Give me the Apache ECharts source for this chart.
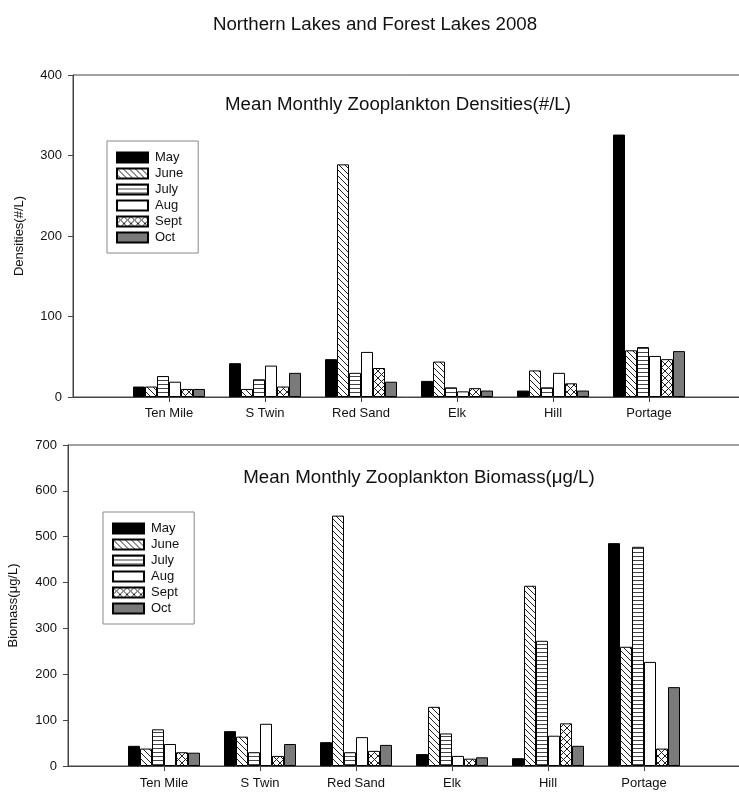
<!DOCTYPE html>
<html>
<head>
<meta charset="utf-8">
<script src="https://cdn.jsdelivr.net/npm/echarts@6/dist/echarts.min.js"></script>
<style>
html,body{margin:0;padding:0;background:#fff;}
#chart{width:739px;height:792px;}
</style>
</head>
<body>
<div id="chart"></div>
<script>
// ---- data ----
const lakes = ['Ten Mile', 'S Twin', 'Red Sand', 'Elk', 'Hill', 'Portage'];
const months = ['May', 'June', 'July', 'Aug', 'Sept', 'Oct'];

const densMay  = [13, 42, 47, 20, 8, 326];
const densJune = [13, 10, 289, 44, 33, 58];
const densJuly = [26, 22, 30, 12, 12, 62];
const densAug  = [19, 39, 56, 7, 30, 51];
const densSept = [10, 13, 36, 11, 17, 47];
const densOct  = [10, 30, 19, 8, 8, 57];

const bioMay  = [44, 76, 52, 26, 17, 486];
const bioJune = [38, 64, 546, 129, 393, 260];
const bioJuly = [80, 30, 30, 71, 273, 478];
const bioAug  = [48, 92, 63, 22, 66, 227];
const bioSept = [30, 22, 33, 16, 93, 38];
const bioOct  = [29, 48, 46, 19, 44, 172];

const densTicks = [0, 100, 200, 300, 400];
const bioTicks = [0, 100, 200, 300, 400, 500, 600, 700];

// ---- patterns ----
function makePattern(kind) {
  const c = document.createElement('canvas');
  const ctx = c.getContext('2d');
  if (kind === 'diag') {
    c.width = 6; c.height = 6;
    ctx.fillStyle = '#fff'; ctx.fillRect(0, 0, 6, 6);
    ctx.strokeStyle = '#222'; ctx.lineWidth = 1;
    ctx.beginPath();
    ctx.moveTo(-1, -1); ctx.lineTo(7, 7);
    ctx.moveTo(-1, 5); ctx.lineTo(1, 7);
    ctx.moveTo(5, -1); ctx.lineTo(7, 1);
    ctx.stroke();
  } else if (kind === 'horiz') {
    c.width = 4; c.height = 4;
    ctx.fillStyle = '#fff'; ctx.fillRect(0, 0, 4, 4);
    ctx.fillStyle = '#444'; ctx.fillRect(0, 0, 4, 1);
  } else if (kind === 'cross') {
    c.width = 7; c.height = 7;
    ctx.fillStyle = '#fff'; ctx.fillRect(0, 0, 7, 7);
    ctx.strokeStyle = '#222'; ctx.lineWidth = 1;
    ctx.beginPath();
    ctx.moveTo(0, 0); ctx.lineTo(7, 7);
    ctx.moveTo(7, 0); ctx.lineTo(0, 7);
    ctx.stroke();
  }
  return { image: c, repeat: 'repeat' };
}

const fills = ['#000000', makePattern('diag'), makePattern('horiz'), '#ffffff', makePattern('cross'), '#7a7a7a'];
const densSeries = [densMay, densJune, densJuly, densAug, densSept, densOct];
const bioSeries = [bioMay, bioJune, bioJuly, bioAug, bioSept, bioOct];

const FONT = 'Liberation Sans, Arial, sans-serif';
const axisCats = [''].concat(lakes, ['']);

function pad(vals) { return ['-'].concat(vals, ['-']); }

function xAxisCfg(gridIndex, margin) {
  return {
    type: 'category', gridIndex: gridIndex, data: axisCats, boundaryGap: false,
    axisLine: { lineStyle: { color: '#444', width: 1 } },
    axisTick: { show: true, length: 5, lineStyle: { color: '#444' }, interval: function (i, v) { return v !== ''; } },
    axisLabel: { interval: 0, color: '#111', fontSize: 13, fontFamily: FONT, margin: margin }
  };
}
function yAxisCfg(gridIndex, max, name, gap) {
  return {
    type: 'value', gridIndex: gridIndex, min: 0, max: max, interval: 100,
    name: name, nameLocation: 'middle', nameGap: gap, nameRotate: 90,
    nameTextStyle: { color: '#111', fontSize: 13, fontFamily: FONT },
    axisLine: { show: true, lineStyle: { color: '#444', width: 1 } },
    axisTick: { show: true, length: 5, lineStyle: { color: '#444' } },
    axisLabel: { color: '#111', fontSize: 13, fontFamily: FONT, margin: 11 },
    splitLine: { show: false }
  };
}

const series = [];
months.forEach(function (m, i) {
  series.push({
    name: m, type: 'bar', xAxisIndex: 0, yAxisIndex: 0,
    data: pad(densSeries[i]), barWidth: 12, barGap: '0%',
    itemStyle: { color: fills[i], borderColor: '#000', borderWidth: 1 },
    emphasis: { disabled: true }, animation: false
  });
});
months.forEach(function (m, i) {
  series.push({
    name: m, type: 'bar', xAxisIndex: 1, yAxisIndex: 1,
    data: pad(bioSeries[i]), barWidth: 12, barGap: '0%',
    itemStyle: { color: fills[i], borderColor: '#000', borderWidth: 1 },
    emphasis: { disabled: true }, animation: false
  });
});

function legendCfg(left, top) {
  return {
    orient: 'vertical', left: left, top: top, data: months,
    itemWidth: 31, itemHeight: 10, itemGap: 3,
    padding: [10, 15, 9, 9],
    borderColor: '#888', borderWidth: 1, backgroundColor: '#fff',
    icon: 'rect', selectedMode: false,
    textStyle: { color: '#111', fontSize: 13, fontFamily: FONT, padding: [0, 0, 0, 2] }
  };
}

const option = {
  animation: false,
  backgroundColor: '#fff',
  title: [
    { text: 'Northern Lakes and Forest Lakes 2008', left: 370, top: 10, textAlign: 'center',
      textStyle: { fontSize: 18.7, fontWeight: 'normal', color: '#111', fontFamily: FONT } },
    { text: 'Mean Monthly Zooplankton Densities(#/L)', left: 393, top: 90, textAlign: 'center',
      textStyle: { fontSize: 18.7, fontWeight: 'normal', color: '#111', fontFamily: FONT } },
    { text: 'Mean Monthly Zooplankton Biomass(μg/L)', left: 414, top: 463, textAlign: 'center',
      textStyle: { fontSize: 18.7, fontWeight: 'normal', color: '#111', fontFamily: FONT } }
  ],
  grid: [
    { left: 73, top: 75, width: 672, height: 322, outerBoundsMode: 'none', containLabel: false,
      show: true, borderColor: '#444', borderWidth: 1, backgroundColor: 'transparent' },
    { left: 68, top: 445, width: 672, height: 321, outerBoundsMode: 'none', containLabel: false,
      show: true, borderColor: '#444', borderWidth: 1, backgroundColor: 'transparent' }
  ],
  legend: [legendCfg(107, 141), legendCfg(103, 512)],
  xAxis: [xAxisCfg(0, 10), xAxisCfg(1, 10.5)],
  yAxis: [yAxisCfg(0, 400, 'Densities(#/L)', 47), yAxisCfg(1, 700, 'Biomass(μg/L)', 48)],
  series: series
};

const chart = echarts.init(document.getElementById('chart'), null, { renderer: 'canvas' });
chart.setOption(option);
</script>
</body>
</html>
